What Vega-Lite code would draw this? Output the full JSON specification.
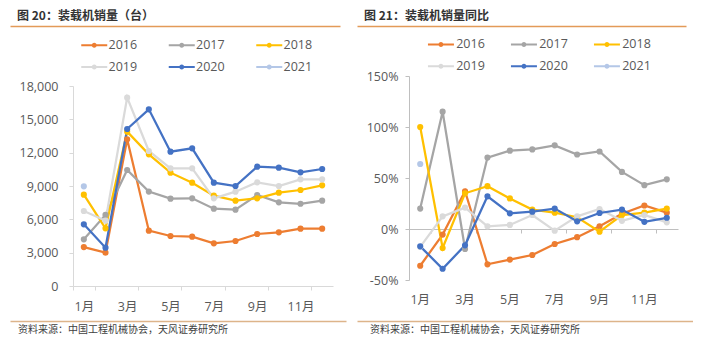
{
  "$schema": "https://vega.github.io/schema/vega-lite/v6.json",
  "background": "white",
  "padding": {"left": 10, "top": 10, "right": 0, "bottom": 0},
  "datasets": {
    "sales": [
      {"m": 1, "year": "2016", "v": 3500}, {"m": 2, "year": "2016", "v": 3000}, {"m": 3, "year": "2016", "v": 13200}, {"m": 4, "year": "2016", "v": 4980}, {"m": 5, "year": "2016", "v": 4500}, {"m": 6, "year": "2016", "v": 4440}, {"m": 7, "year": "2016", "v": 3840}, {"m": 8, "year": "2016", "v": 4050}, {"m": 9, "year": "2016", "v": 4680}, {"m": 10, "year": "2016", "v": 4830}, {"m": 11, "year": "2016", "v": 5160}, {"m": 12, "year": "2016", "v": 5160},
      {"m": 1, "year": "2017", "v": 4200}, {"m": 2, "year": "2017", "v": 6400}, {"m": 3, "year": "2017", "v": 10440}, {"m": 4, "year": "2017", "v": 8500}, {"m": 5, "year": "2017", "v": 7860}, {"m": 6, "year": "2017", "v": 7890}, {"m": 7, "year": "2017", "v": 6960}, {"m": 8, "year": "2017", "v": 6870}, {"m": 9, "year": "2017", "v": 8190}, {"m": 10, "year": "2017", "v": 7530}, {"m": 11, "year": "2017", "v": 7400}, {"m": 12, "year": "2017", "v": 7680},
      {"m": 1, "year": "2018", "v": 8220}, {"m": 2, "year": "2018", "v": 5190}, {"m": 3, "year": "2018", "v": 13890}, {"m": 4, "year": "2018", "v": 11850}, {"m": 5, "year": "2018", "v": 10200}, {"m": 6, "year": "2018", "v": 9300}, {"m": 7, "year": "2018", "v": 8130}, {"m": 8, "year": "2018", "v": 7680}, {"m": 9, "year": "2018", "v": 7890}, {"m": 10, "year": "2018", "v": 8400}, {"m": 11, "year": "2018", "v": 8640}, {"m": 12, "year": "2018", "v": 9060},
      {"m": 1, "year": "2019", "v": 6750}, {"m": 2, "year": "2019", "v": 5880}, {"m": 3, "year": "2019", "v": 16950}, {"m": 4, "year": "2019", "v": 12150}, {"m": 5, "year": "2019", "v": 10590}, {"m": 6, "year": "2019", "v": 10590}, {"m": 7, "year": "2019", "v": 7890}, {"m": 8, "year": "2019", "v": 8490}, {"m": 9, "year": "2019", "v": 9330}, {"m": 10, "year": "2019", "v": 9000}, {"m": 11, "year": "2019", "v": 9600}, {"m": 12, "year": "2019", "v": 9600},
      {"m": 1, "year": "2020", "v": 5550}, {"m": 2, "year": "2020", "v": 3450}, {"m": 3, "year": "2020", "v": 14130}, {"m": 4, "year": "2020", "v": 15900}, {"m": 5, "year": "2020", "v": 12090}, {"m": 6, "year": "2020", "v": 12390}, {"m": 7, "year": "2020", "v": 9300}, {"m": 8, "year": "2020", "v": 9000}, {"m": 9, "year": "2020", "v": 10740}, {"m": 10, "year": "2020", "v": 10650}, {"m": 11, "year": "2020", "v": 10230}, {"m": 12, "year": "2020", "v": 10530},
      {"m": 1, "year": "2021", "v": 8970}
    ],
    "yoy": [
      {"m": 1, "year": "2016", "p": -36}, {"m": 2, "year": "2016", "p": -5.5}, {"m": 3, "year": "2016", "p": 37}, {"m": 4, "year": "2016", "p": -34.6}, {"m": 5, "year": "2016", "p": -30}, {"m": 6, "year": "2016", "p": -25.5}, {"m": 7, "year": "2016", "p": -14.7}, {"m": 8, "year": "2016", "p": -8}, {"m": 9, "year": "2016", "p": 2.6}, {"m": 10, "year": "2016", "p": 15}, {"m": 11, "year": "2016", "p": 23}, {"m": 12, "year": "2016", "p": 16},
      {"m": 1, "year": "2017", "p": 20}, {"m": 2, "year": "2017", "p": 115}, {"m": 3, "year": "2017", "p": -19.6}, {"m": 4, "year": "2017", "p": 70}, {"m": 5, "year": "2017", "p": 76.8}, {"m": 6, "year": "2017", "p": 78}, {"m": 7, "year": "2017", "p": 82}, {"m": 8, "year": "2017", "p": 73}, {"m": 9, "year": "2017", "p": 76}, {"m": 10, "year": "2017", "p": 56}, {"m": 11, "year": "2017", "p": 43}, {"m": 12, "year": "2017", "p": 48.7},
      {"m": 1, "year": "2018", "p": 100}, {"m": 2, "year": "2018", "p": -18.6}, {"m": 3, "year": "2018", "p": 35}, {"m": 4, "year": "2018", "p": 42}, {"m": 5, "year": "2018", "p": 30}, {"m": 6, "year": "2018", "p": 19}, {"m": 7, "year": "2018", "p": 16}, {"m": 8, "year": "2018", "p": 11.5}, {"m": 9, "year": "2018", "p": -2.6}, {"m": 10, "year": "2018", "p": 13.7}, {"m": 11, "year": "2018", "p": 16}, {"m": 12, "year": "2018", "p": 20},
      {"m": 1, "year": "2019", "p": -17.5}, {"m": 2, "year": "2019", "p": 12.4}, {"m": 3, "year": "2019", "p": 21}, {"m": 4, "year": "2019", "p": 2.6}, {"m": 5, "year": "2019", "p": 4}, {"m": 6, "year": "2019", "p": 13.7}, {"m": 7, "year": "2019", "p": -1.6}, {"m": 8, "year": "2019", "p": 12.4}, {"m": 9, "year": "2019", "p": 19.6}, {"m": 10, "year": "2019", "p": 8}, {"m": 11, "year": "2019", "p": 13.7}, {"m": 12, "year": "2019", "p": 6.5},
      {"m": 1, "year": "2020", "p": -17}, {"m": 2, "year": "2020", "p": -39}, {"m": 3, "year": "2020", "p": -16}, {"m": 4, "year": "2020", "p": 32}, {"m": 5, "year": "2020", "p": 15.4}, {"m": 6, "year": "2020", "p": 17}, {"m": 7, "year": "2020", "p": 20}, {"m": 8, "year": "2020", "p": 7.5}, {"m": 9, "year": "2020", "p": 15.7}, {"m": 10, "year": "2020", "p": 19}, {"m": 11, "year": "2020", "p": 7}, {"m": 12, "year": "2020", "p": 11},
      {"m": 1, "year": "2021", "p": 63.7}
    ]
  },
  "spacing": 11,
  "align": "none",
  "resolve": {"scale": {"color": "independent"}, "legend": {"color": "independent"}},
  "hconcat": [
    {
      "spacing": 8,
      "resolve": {"scale": {"color": "independent"}, "legend": {"color": "independent"}},
      "vconcat": [
        {
          "width": 260, "height": 1,
          "title": {"text": "图 20：装载机销量（台）", "anchor": "start", "dx": 7, "offset": 2, "fontSize": 12, "fontWeight": "bold", "color": "#333333", "font": "Noto Sans CJK SC"},
          "data": {"values": [{}]},
          "mark": {"type": "rule", "opacity": 0},
          "encoding": {"x": {"datum": 0, "type": "quantitative", "scale": {"domain": [0, 1], "range": [0, 330]}, "axis": {"orient": "bottom", "position": -63, "domainColor": "#E39A58", "domainWidth": 1.5, "ticks": false, "labels": false, "grid": false, "title": null}}}
        },
        {
          "width": 260, "height": 200,
          "data": {"name": "sales"},
          "encoding": {
            "x": {"field": "m", "type": "ordinal", "scale": {"domain": [1,2,3,4,5,6,7,8,9,10,11,12], "paddingInner": 0, "paddingOuter": 0},
              "axis": {"values": [1,3,5,7,9,11], "labelExpr": "isValid(datum.value) ? datum.value + '月' : ''", "tickBand": "extent", "domainColor": "#D9D9D9", "tickColor": "#D9D9D9", "tickSize": 4, "labelPadding": 10, "labelAngle": 0, "title": null, "grid": false}},
            "y": {"field": "v", "type": "quantitative", "scale": {"domain": [0, 18000]},
              "axis": {"values": [0,3000,6000,9000,12000,15000,18000], "format": ",d", "labelOverlap": false, "domainColor": "#D9D9D9", "tickColor": "#D9D9D9", "tickSize": 4, "labelPadding": 11, "minExtent": 63, "grid": false, "title": null}},
            "color": {"field": "year", "type": "nominal", "scale": {"domain": ["2016","2017","2018","2019","2020","2021"], "range": ["#ED7D31","#A5A5A5","#FFC000","#DADADA","#4472C4","#B4C7E7"]},
              "legend": {"orient": "none", "legendX": 3, "legendY": -51.25, "direction": "horizontal", "columns": 3, "title": null, "padding": 4,
                "symbolType": "M-1,-0.2H4.2V0.2H-1Z M2.1,0A0.5,0.5 0 1,1 1.1,0A0.5,0.5 0 1,1 2.1,0Z", "symbolSize": 100, "symbolStrokeWidth": 0, "symbolOpacity": 1,
                "labelOffset": 16, "labelFontSize": 12.5, "labelColor": "#595959", "labelFont": "Open Sans", "columnPadding": 29.5, "rowPadding": 9}}
          },
          "layer": [
            {"mark": {"type": "line", "strokeWidth": 2.25}},
            {"mark": {"type": "point", "filled": true, "size": 38, "opacity": 1}}
          ]
        },
        {
          "width": 260, "height": 1,
          "title": {"text": "资料来源：中国工程机械协会，天风证券研究所", "orient": "bottom", "anchor": "start", "dx": 8, "offset": 3, "fontSize": 10, "fontWeight": "normal", "color": "#404040", "font": "Noto Sans CJK SC"},
          "data": {"values": [{}]},
          "mark": {"type": "rule", "opacity": 0},
          "encoding": {"x": {"datum": 0, "type": "quantitative", "scale": {"domain": [0, 1], "range": [0, 336]}, "axis": {"orient": "top", "position": -63, "domainColor": "#DDB48A", "domainWidth": 1.5, "ticks": false, "labels": false, "grid": false, "title": null}}}
        }
      ]
    },
    {
      "spacing": 8,
      "resolve": {"scale": {"color": "independent"}, "legend": {"color": "independent"}},
      "vconcat": [
        {
          "width": 269, "height": 1,
          "title": {"text": "图 21：装载机销量同比", "anchor": "start", "dx": 7, "offset": 2, "fontSize": 12, "fontWeight": "bold", "color": "#333333", "font": "Noto Sans CJK SC"},
          "data": {"values": [{}]},
          "mark": {"type": "rule", "opacity": 0},
          "encoding": {"x": {"datum": 0, "type": "quantitative", "scale": {"domain": [0, 1], "range": [0, 329]}, "axis": {"orient": "bottom", "position": -52, "domainColor": "#E39A58", "domainWidth": 1.5, "ticks": false, "labels": false, "grid": false, "title": null}}}
        },
        {
          "width": 269, "height": 204,
          "data": {"name": "yoy"},
          "encoding": {
            "y": {"field": "p", "type": "quantitative", "scale": {"domain": [-50, 150]},
              "axis": {"values": [-50,0,50,100,150], "labelExpr": "datum.value + '%'", "labelOverlap": false, "domainColor": "#BFBFBF", "tickColor": "#BFBFBF", "tickSize": 4, "labelPadding": 7, "minExtent": 52, "grid": false, "title": null}},
            "color": {"field": "year", "type": "nominal", "scale": {"domain": ["2016","2017","2018","2019","2020","2021"], "range": ["#ED7D31","#A5A5A5","#FFC000","#DADADA","#4472C4","#B4C7E7"]},
              "legend": {"orient": "none", "legendX": 13.7, "legendY": -41.95, "direction": "horizontal", "columns": 3, "title": null, "padding": 4,
                "symbolType": "M-1,-0.2H4.2V0.2H-1Z M2.1,0A0.5,0.5 0 1,1 1.1,0A0.5,0.5 0 1,1 2.1,0Z", "symbolSize": 100, "symbolStrokeWidth": 0, "symbolOpacity": 1,
                "labelOffset": 17, "labelFontSize": 12.5, "labelColor": "#595959", "labelFont": "Open Sans", "columnPadding": 24, "rowPadding": 9}}
          },
          "layer": [
            {
              "mark": {"type": "line", "strokeWidth": 2.25},
              "encoding": {
                "x": {"field": "m", "type": "ordinal", "scale": {"domain": [1,2,3,4,5,6,7,8,9,10,11,12], "paddingInner": 0, "paddingOuter": 0},
                  "axis": {"orient": "bottom", "values": [1,3,5,7,9,11], "labelExpr": "datum.value + '月'", "domain": false, "ticks": false, "tickSize": 0, "labelPadding": 13, "labelAngle": 0, "title": null, "grid": false, "minExtent": 33}}
              }
            },
            {
              "mark": {"type": "point", "filled": true, "size": 38, "opacity": 1},
              "encoding": {
                "x": {"field": "m", "type": "ordinal",
                  "axis": {"orient": "bottom", "offset": -51, "values": [1,3,5,7,9,11], "tickBand": "extent", "labels": false, "domainColor": "#BFBFBF", "tickColor": "#BFBFBF", "tickSize": 4, "title": null, "grid": false, "minExtent": 0}}
              }
            }
          ],
          "resolve": {"axis": {"x": "independent"}}
        },
        {
          "width": 269, "height": 1,
          "title": {"text": "资料来源：中国工程机械协会，天风证券研究所", "orient": "bottom", "anchor": "start", "dx": 13, "offset": 3, "fontSize": 10, "fontWeight": "normal", "color": "#404040", "font": "Noto Sans CJK SC"},
          "data": {"values": [{}]},
          "mark": {"type": "rule", "opacity": 0},
          "encoding": {"x": {"datum": 0, "type": "quantitative", "scale": {"domain": [0, 1], "range": [0, 336]}, "axis": {"orient": "top", "position": -52, "domainColor": "#DDB48A", "domainWidth": 1.5, "ticks": false, "labels": false, "grid": false, "title": null}}}
        }
      ]
    }
  ],
  "config": {
    "view": {"stroke": null},
    "axis": {"labelFont": "Open Sans, Noto Sans CJK SC", "labelFontSize": 12.5, "labelColor": "#595959"}
  }
}
